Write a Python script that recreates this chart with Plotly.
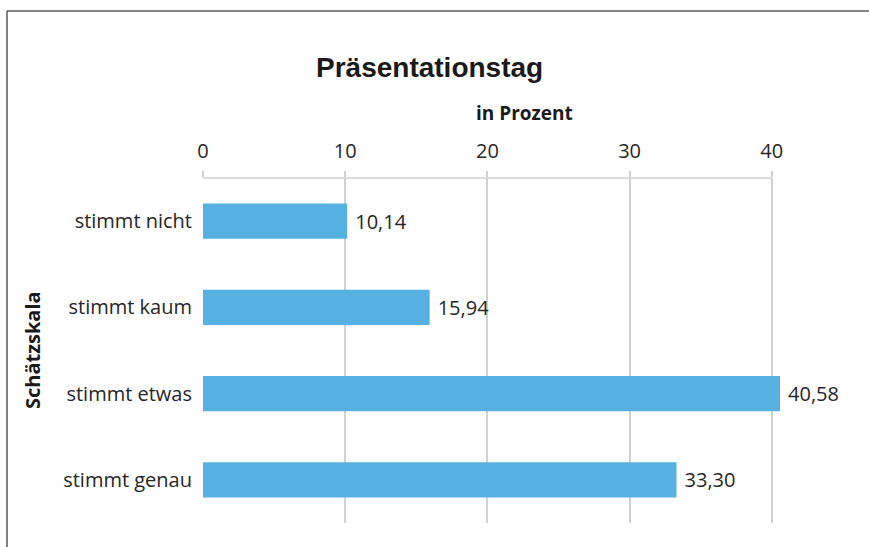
import plotly.graph_objects as go

# Survey answers on the rating scale and their share in percent
categories = ["stimmt nicht", "stimmt kaum", "stimmt etwas", "stimmt genau"]
values = [10.14, 15.94, 40.58, 33.30]
tick_values = [0, 10, 20, 30, 40]

W, H = 869, 547
L, R, T, B = 203, 786, 178, 523  # plot area in pixels

def px_x(p):
    return (p - L) / (R - L)

def px_y(p):
    return (B - p) / (B - T)

font_family = "'Open Sans', sans-serif"
text_color = "#262626"
grid_color = "#d0d0d0"

fig = go.Figure(
    go.Bar(
        x=values,
        y=categories,
        orientation="h",
        marker=dict(color="#56b0e1", line=dict(width=0)),
        width=0.41,
        texttemplate="\u2005%{x:.2f}",
        textposition="outside",
        textfont=dict(family=font_family, size=20, color=text_color),
        cliponaxis=False,
        hoverinfo="skip",
    )
)

fig.update_layout(
    width=W,
    height=H,
    margin=dict(l=L, r=W - R, t=T, b=H - B),
    paper_bgcolor="white",
    plot_bgcolor="white",
    separators=",.",
    showlegend=False,
    font=dict(family=font_family, color=text_color),
)

fig.update_xaxes(
    side="top",
    range=[0, 41],
    tickvals=tick_values,
    ticktext=[str(v) for v in tick_values],
    tickfont=dict(size=20, color=text_color),
    ticks="outside",
    ticklen=6,
    tickcolor=grid_color,
    tickwidth=1.5,
    ticklabelstandoff=5,
    showgrid=True,
    gridcolor=grid_color,
    gridwidth=1.5,
    zeroline=False,
    showline=False,
    fixedrange=True,
)

fig.update_yaxes(
    categoryorder="array",
    categoryarray=categories[::-1],
    tickfont=dict(size=20, color=text_color),
    ticks="",
    ticklabelstandoff=10,
    showgrid=False,
    zeroline=False,
    showline=False,
    fixedrange=True,
)

# Top axis line spans only the labelled range 0..40
fig.add_shape(type="line", xref="x", yref="paper", x0=0, x1=40, y0=1, y1=1,
              line=dict(color=grid_color, width=1.5))

# Chart frame (top and left edges)
fig.add_shape(type="line", xref="paper", yref="paper",
              x0=px_x(7), x1=px_x(869), y0=px_y(11), y1=px_y(11),
              line=dict(color="#595959", width=1.5))
fig.add_shape(type="line", xref="paper", yref="paper",
              x0=px_x(7), x1=px_x(7), y0=px_y(11), y1=px_y(560),
              line=dict(color="#595959", width=1.5))

# Title, axis titles
fig.add_annotation(text="<b>Präsentationstag</b>", xref="paper", yref="paper",
                   x=px_x(429), y=px_y(67), showarrow=False,
                   font=dict(size=28, color="#1a1a1a",
                             family="'Liberation Sans', Arial, sans-serif"),
                   xanchor="center", yanchor="middle")
fig.add_annotation(text="<b>in Prozent</b>", xref="paper", yref="paper",
                   x=px_x(524), y=px_y(113), showarrow=False,
                   font=dict(size=19, color="#1a1a1a", family=font_family),
                   xanchor="center", yanchor="middle")
fig.add_annotation(text="<b>Schätzskala</b>", xref="paper", yref="paper",
                   x=px_x(32), y=px_y(350), showarrow=False, textangle=-90,
                   font=dict(size=20, color="#1a1a1a", family=font_family),
                   xanchor="center", yanchor="middle")

fig.write_html("out.html")
